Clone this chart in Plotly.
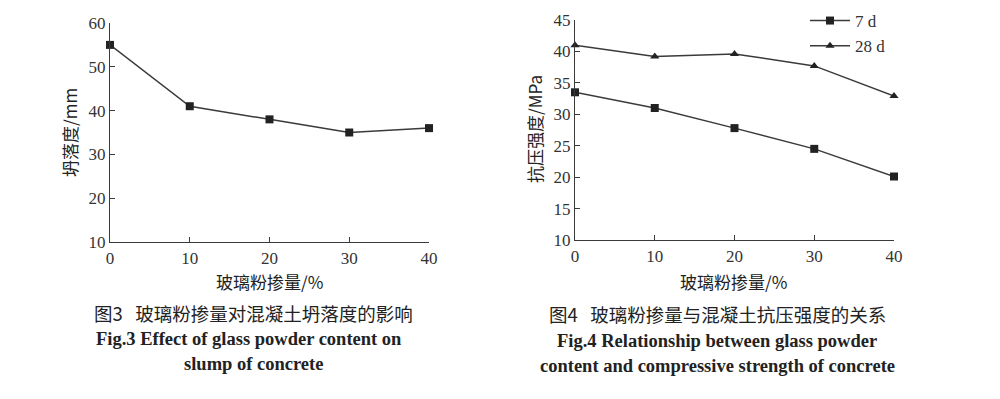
import plotly.graph_objects as go

glass = [0, 10, 20, 30, 40]
slump = [55, 41, 38, 35, 36]
str_7d = [33.5, 31.0, 27.8, 24.5, 20.1]
str_28d = [41.0, 39.2, 39.6, 37.7, 32.9]
x_ticks = [0, 10, 20, 30, 40]
y1_ticks = [10, 20, 30, 40, 50, 60]
y2_ticks = [10, 15, 20, 25, 30, 35, 40, 45]

W, H = 1000, 399
OFF = 8  # page body margin
LC = "#3a3a3a"
FONT = "Liberation Serif, Times New Roman, Noto Sans CJK SC, serif"
CJK = "Noto Sans CJK SC, Liberation Serif, serif"

fig = go.Figure()
fig.add_trace(go.Scatter(x=glass, y=slump, mode="lines+markers", xaxis="x", yaxis="y",
                         line=dict(color=LC, width=1.5), cliponaxis=False,
                         marker=dict(symbol="square", size=8, color="#222"),
                         showlegend=False))
fig.add_trace(go.Scatter(x=glass, y=str_7d, mode="lines+markers", xaxis="x2", yaxis="y2",
                         name="7 d", line=dict(color=LC, width=1.5), cliponaxis=False,
                         marker=dict(symbol="square", size=8, color="#222")))
fig.add_trace(go.Scatter(x=glass, y=str_28d, mode="lines+markers", xaxis="x2", yaxis="y2",
                         name="28 d", line=dict(color=LC, width=1.5), cliponaxis=False,
                         marker=dict(symbol="triangle-up", size=8, color="#222")))

def px_x(p):
    return (p - OFF) / W

def px_y(p):
    return 1 - (p - OFF) / H

axis_common = dict(showgrid=False, zeroline=False, showline=True, linecolor=LC, linewidth=1.2,
                   ticks="inside", ticklen=5, tickcolor=LC, tickwidth=1.2, automargin=False,
                   tickfont=dict(family=FONT, size=17, color="#333"))

fig.update_layout(
    template="none",
    width=W, height=H,
    margin=dict(l=0, r=0, t=0, b=0, pad=0, autoexpand=False),
    paper_bgcolor="white", plot_bgcolor="white",
    xaxis=dict(domain=[px_x(110), px_x(429)], range=[0, 40], tickvals=x_ticks,
               anchor="y", **axis_common),
    yaxis=dict(domain=[px_y(242), px_y(23)], range=[10, 60], tickvals=y1_ticks,
               anchor="x", **axis_common),
    xaxis2=dict(domain=[px_x(575), px_x(894)], range=[0, 40], tickvals=x_ticks,
                anchor="y2", **axis_common),
    yaxis2=dict(domain=[px_y(240), px_y(20)], range=[10, 45], tickvals=y2_ticks,
                anchor="x2", **axis_common),
    legend=dict(x=px_x(805), y=px_y(3), xanchor="left", yanchor="top",
                font=dict(family=FONT, size=17, color="#333"),
                bgcolor="rgba(0,0,0,0)", itemwidth=40, tracegroupgap=0),
    showlegend=True,
)

ann = []
def text(x, y, s, size=18, angle=0, family=CJK):
    ann.append(dict(x=px_x(x), y=px_y(y), xref="paper", yref="paper", text=s,
                    showarrow=False, xanchor="center", yanchor="middle", textangle=angle,
                    font=dict(family=family, size=size, color="#222")))

# axis titles
text(269, 281, "玻璃粉掺量/%", size=17)
text(733, 281, "玻璃粉掺量/%", size=17)
text(70, 133, "坍落度/mm", size=17, angle=-90)
text(535, 129, "抗压强度/MPa", size=17, angle=-90)

# captions
text(253, 313, "图3&nbsp;&nbsp;&nbsp;玻璃粉掺量对混凝土坍落度的影响", size=18.5)
text(249, 339, "<b>Fig.3 Effect of glass powder content on</b>", size=18.5, family=FONT)
text(253, 364, "<b>slump of concrete</b>", size=18.5, family=FONT)
text(717, 314, "图4&nbsp;&nbsp;&nbsp;玻璃粉掺量与混凝土抗压强度的关系", size=18.5)
text(717, 341, "<b>Fig.4 Relationship between glass powder</b>", size=18.5, family=FONT)
text(717, 366, "<b>content and compressive strength of concrete</b>", size=18.5, family=FONT)

fig.update_layout(annotations=ann)
fig.write_html("out.html")
